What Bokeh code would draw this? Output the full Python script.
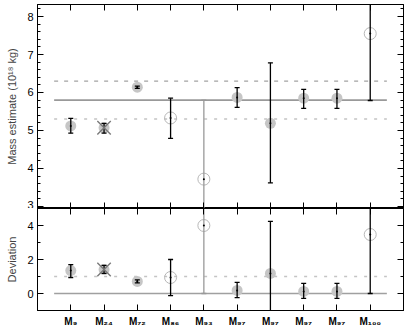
from bokeh.plotting import figure
from bokeh.layouts import column
from bokeh.models import LinearAxis, FixedTicker, Range1d, ColumnDataSource
from bokeh.embed import file_html
from bokeh.resources import INLINE

labels = ["M₉", "M₂₄", "M₇₂", "M₈₆", "M₉₃", "M₉₇", "M₉₇", "M₉₇", "M₉₇", "M₁₀₀"]
xpos = [1, 2, 3, 4, 5, 6, 7, 8, 9, 10]
kind = ["filled", "cross", "filled", "open", "open", "filled", "filled", "filled", "filled", "open"]
bar_color = ["black", "black", "black", "black", "#999999", "black", "black", "black", "black", "black"]

mass = [5.12, 5.07, 6.14, 5.33, 3.72, 5.87, 5.19, 5.85, 5.85, 7.55]
mass_lo = [4.93, 4.93, 6.11, 4.79, 2.0, 5.61, 3.62, 5.58, 5.58, 5.79]
mass_hi = [5.32, 5.19, 6.17, 5.85, 5.80, 6.13, 6.78, 6.08, 6.08, 9.5]

dev = [1.35, 1.41, 0.71, 0.94, 4.0, 0.18, 1.18, 0.12, 0.12, 3.47]
dev_lo = [0.94, 1.18, 0.62, -0.12, 0.0, -0.24, -2.0, -0.29, -0.29, 0.0]
dev_hi = [1.70, 1.65, 0.80, 2.0, 6.0, 0.65, 4.24, 0.59, 0.59, 6.0]

mass_ref = 5.8
mass_upper = 6.3
mass_lower = 5.3
dev_ref = 0.0
dev_line = 1.0

FONT = "Liberation Sans"


def setup_axis(ax, yaxis, yt, xt):
    ax.ticker = yt if yaxis else xt
    ax.minor_tick_in = 3 if yaxis else 0
    ax.minor_tick_out = 0
    ax.major_tick_in = 6
    ax.major_tick_out = 0
    ax.axis_line_color = "black"
    ax.axis_line_width = 1
    ax.major_tick_line_color = "black"
    ax.minor_tick_line_color = "black"
    ax.major_label_text_font = FONT
    ax.major_label_text_font_size = "11px"
    ax.major_label_text_color = "black"


def panel(vals, lo, hi, yr, height, top, bottom, hlines, yticks, yminor, show_x, ylabel):
    p = figure(width=407 + 8, height=height, x_range=Range1d(0, 11), y_range=Range1d(*yr),
               output_backend="svg", toolbar_location=None,
               min_border_left=37 + 8, min_border_right=4, min_border_top=top, min_border_bottom=bottom)
    p.grid.visible = False
    p.outline_line_color = "black"
    p.background_fill_color = "white"

    xt = FixedTicker(ticks=xpos, minor_ticks=[])
    yt = FixedTicker(ticks=yticks, minor_ticks=yminor)

    left = p.yaxis[0]
    below = p.xaxis[0]
    setup_axis(left, True, yt, xt)
    setup_axis(below, False, yt, xt)
    left.axis_label = ylabel
    left.axis_label_text_font = FONT
    left.axis_label_text_font_size = "11px"
    left.axis_label_text_font_style = "normal"
    left.axis_label_standoff = 6
    left.major_label_standoff = 4
    if show_x:
        below.major_label_overrides = {x: l for x, l in zip(xpos, labels)}
        below.major_label_standoff = 5
        below.major_label_text_font_style = "bold"
        below.major_label_text_font_size = "10px"
    else:
        below.major_label_text_font_size = "0px"
        below.major_label_standoff = 0

    right = LinearAxis()
    setup_axis(right, True, yt, xt)
    right.major_label_text_font_size = "0px"
    right.major_label_standoff = 0
    p.add_layout(right, "right")
    above = LinearAxis()
    setup_axis(above, False, yt, xt)
    above.major_label_text_font_size = "0px"
    above.major_label_standoff = 0
    p.add_layout(above, "above")

    for yv, color, dash, w in hlines:
        p.segment(x0=[0.5], x1=[10.5], y0=[yv], y1=[yv], line_color=color, line_dash=dash, line_width=w)

    src = ColumnDataSource(dict(x=xpos, y=vals, lo=lo, hi=hi, bc=bar_color))
    filled = [i for i, k in enumerate(kind) if k in ("filled", "cross")]
    opened = [i for i, k in enumerate(kind) if k == "open"]
    crossed = [i for i, k in enumerate(kind) if k == "cross"]

    p.scatter([xpos[i] for i in filled], [vals[i] for i in filled], size=11,
              fill_color="#c6c6c6", line_color=None)
    p.scatter([xpos[i] for i in opened], [vals[i] for i in opened], size=12,
              fill_color=None, line_color="#b8b8b8", line_width=1)

    p.segment(x0="x", x1="x", y0="lo", y1="hi", line_color="bc", line_width=1.3, source=src)
    p.scatter(x="x", y="lo", marker="dash", size=5, line_color="bc", line_width=1.3, source=src)
    p.scatter(x="x", y="hi", marker="dash", size=5, line_color="bc", line_width=1.3, source=src)
    p.scatter(x="x", y="y", marker="circle", size=2, fill_color="black", line_color=None, source=src)
    p.scatter([xpos[i] for i in crossed], [vals[i] for i in crossed], size=19, marker="x",
              line_color="#7a7a7a", line_width=1.4)
    return p


top_minor = [round(3 + 0.2 * i, 2) for i in range(0, 27)]
p1 = panel(mass, mass_lo, mass_hi, (2.947, 8.316), 204, 0, 0,
           [(mass_upper, "#8a8a8a", "4 6", 1), (mass_ref, "#999999", "solid", 1.6),
            (mass_lower, "#c4c4c4", "3 7", 1.5)],
           [3, 4, 5, 6, 7, 8], top_minor, False, "Mass estimate (10¹⁸ kg)")
p2 = panel(dev, dev_lo, dev_hi, (-1.0, 5.0), 122, 0, 20,
           [(dev_ref, "#a0a0a0", "solid", 1.6), (dev_line, "#c4c4c4", "3 7", 1.5)],
           [0, 2, 4], [-1, 1, 3, 5], True, "Deviation")

layout = column(p1, p2, spacing=0, margin=(4, 0, 0, -8))
open("out.html", "w").write(file_html(layout, INLINE))
